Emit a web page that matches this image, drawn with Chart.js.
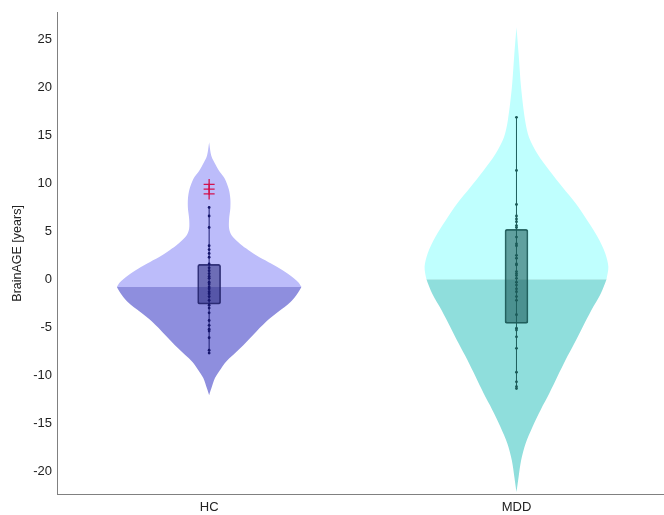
<!DOCTYPE html>
<html>
<head>
<meta charset="utf-8">
<title>BrainAGE violin plot</title>
<script src="https://cdn.jsdelivr.net/npm/chart.js@4.4.1/dist/chart.umd.min.js"></script>
<style>
  html, body { margin: 0; padding: 0; background: #ffffff; }
  #wrap { width: 664px; height: 515px; }
</style>
</head>
<body>
<div id="wrap"><canvas id="violin-chart" width="664" height="515"></canvas></div>
<script>
const groups = ['HC', 'MDD'];
const yTicks = [-20, -15, -10, -5, 0, 5, 10, 15, 20, 25];

// individual subjects (years)
const hcValues = [7.5, 6.6, 5.4, 3.5, 3.1, 2.7, 2.3, 1.6, 1.2, 0.9, 0.6, 0.3, 0.1, -0.3, -0.5, -0.8, -1.0, -1.3, -1.5, -1.8, -2.2, -2.7, -3.0, -3.5, -4.3, -4.8, -5.2, -5.4, -6.1, -7.4, -7.7];
const hcOutliers = [9.9, 9.4, 8.9];
const mddValues = [16.9, 11.35, 7.8, 6.6, 6.3, 6.0, 5.6, 5.4, 4.4, 3.7, 3.5, 2.5, 2.2, 1.6, 1.5, 0.8, 0.6, 0.4, 0.1, -0.3, -0.6, -1.0, -1.3, -1.8, -2.2, -3.7, -5.1, -5.3, -6.0, -7.2, -9.7, -10.7, -11.2, -11.4];

// q1, median, q3
const hcQuartiles = [-2.6, -0.8, 1.55];
const mddQuartiles = [-4.6, 0.0, 5.2];

// kernel density outline: level (years) and half width (x units)
const hcLevels = [-12.1, -11.4, -10.3, -9.3, -8.6, -7.2, -5.8, -4.4, -3.4, -2.4, -1.7, -0.8, -0.3, 0.4, 1.1, 1.8, 2.5, 3.2, 3.9, 4.6, 5.3, 6.3, 7.4, 8.4, 9.4, 10.5, 11.2, 11.9, 12.9, 14.3];
const hcDensity = [0, 0.007, 0.019, 0.039, 0.055, 0.101, 0.143, 0.186, 0.225, 0.264, 0.283, 0.300, 0.290, 0.264, 0.231, 0.192, 0.153, 0.121, 0.094, 0.073, 0.065, 0.065, 0.069, 0.069, 0.064, 0.051, 0.035, 0.022, 0.007, 0];
const mddLevels = [-22.2, -20.6, -18.9, -17.1, -15.4, -13.6, -11.9, -10.1, -8.4, -6.7, -5.0, -3.2, -1.5, 0.0, 1.3, 2.7, 4.4, 6.1, 7.9, 9.6, 11.35, 13.1, 14.8, 16.6, 20.0, 23.5, 26.3];
const mddDensity = [0, 0.007, 0.015, 0.030, 0.052, 0.079, 0.107, 0.134, 0.160, 0.188, 0.215, 0.244, 0.274, 0.293, 0.299, 0.289, 0.264, 0.231, 0.193, 0.150, 0.107, 0.068, 0.041, 0.028, 0.015, 0.007, 0];

function widthAt(levels, widths, y) {
  for (let i = 1; i < levels.length; i++) {
    if (y <= levels[i]) {
      const t = (y - levels[i - 1]) / (levels[i] - levels[i - 1]);
      return widths[i - 1] + t * (widths[i] - widths[i - 1]);
    }
  }
  return 0;
}

// closed outline of the violin between two levels.
// the cut at the median gets extra points next to the corners so the
// curve tension keeps that edge straight
function violinPart(center, levels, widths, from, to) {
  const ys = [from, ...levels.filter((l) => l > from && l < to), to];
  const right = ys.map((y) => ({ x: center + widthAt(levels, widths, y), y }));
  const left = ys.slice().reverse().map((y) => ({ x: center - widthAt(levels, widths, y), y }));
  const eps = 0.004;
  const top = right[right.length - 1];
  const bottom = right[0];
  const topEdge = top.x - center > eps
    ? [{ x: top.x - eps, y: top.y }, { x: 2 * center - top.x + eps, y: top.y }]
    : [];
  const bottomEdge = bottom.x - center > eps
    ? [{ x: 2 * center - bottom.x + eps, y: bottom.y }, { x: bottom.x - eps, y: bottom.y }]
    : [];
  return [...right, ...topEdge, ...left, ...bottomEdge, right[0]];
}

function violinDataset(points, color) {
  return {
    type: 'line',
    data: points,
    backgroundColor: color,
    borderWidth: 0,
    borderColor: 'rgba(0,0,0,0)',
    pointRadius: 0,
    fill: 'shape',
    tension: 0.3,
    order: 10,
  };
}

function dotsDataset(center, values, color) {
  return {
    type: 'line',
    data: values.map((v) => ({ x: center, y: v })),
    showLine: false,
    pointRadius: 1.4,
    pointBorderWidth: 0,
    pointBackgroundColor: color,
    order: 3,
  };
}

function whiskerDataset(center, values, color) {
  return {
    type: 'line',
    data: [{ x: center, y: Math.min(...values) }, { x: center, y: Math.max(...values) }],
    borderColor: color,
    borderWidth: 1,
    pointRadius: 0,
    order: 4,
  };
}

const hcMedian = hcQuartiles[1];
const mddMedian = mddQuartiles[1];

const datasets = [
  violinDataset(violinPart(1, hcLevels, hcDensity, hcMedian, hcLevels[hcLevels.length - 1]), 'rgb(188,188,250)'),
  violinDataset(violinPart(1, hcLevels, hcDensity, hcLevels[0], hcMedian), 'rgb(142,142,222)'),
  violinDataset(violinPart(2, mddLevels, mddDensity, mddMedian, mddLevels[mddLevels.length - 1]), 'rgb(191,255,254)'),
  violinDataset(violinPart(2, mddLevels, mddDensity, mddLevels[0], mddMedian), 'rgb(143,222,220)'),
  {
    type: 'bar',
    data: [
      { x: 1, y: [hcQuartiles[0], hcQuartiles[2]] },
      { x: 2, y: [mddQuartiles[0], mddQuartiles[2]] },
    ],
    backgroundColor: ['rgba(30,30,113,0.5)', 'rgba(21,86,83,0.56)'],
    borderColor: ['rgba(30,30,100,0.85)', 'rgba(20,80,78,0.85)'],
    borderWidth: 1,
    borderRadius: 2,
    borderSkipped: false,
    barThickness: 23,
    order: 5,
  },
  whiskerDataset(1, hcValues, '#1a1a70'),
  whiskerDataset(2, mddValues, '#1d5e5c'),
  dotsDataset(1, hcValues, '#16166c'),
  dotsDataset(2, mddValues, '#1b5a58'),
  {
    type: 'line',
    data: hcOutliers.map((v) => ({ x: 1, y: v })),
    showLine: false,
    pointStyle: 'cross',
    pointRadius: 5.5,
    pointBorderColor: '#d2124e',
    pointBorderWidth: 1.3,
    order: 1,
  },
];

const axisFont = { family: '"Liberation Sans", Arial, sans-serif', size: 13 };

new Chart(document.getElementById('violin-chart'), {
  type: 'line',
  data: { datasets },
  options: {
    responsive: false,
    animation: false,
    layout: { autoPadding: false, padding: { top: 12, right: 0, left: 0, bottom: 0 } },
    plugins: {
      legend: { display: false },
      tooltip: { enabled: false },
    },
    scales: {
      x: {
        type: 'linear',
        min: 0.505,
        max: 2.48,
        offset: false,
        grid: { display: false, drawTicks: false },
        border: { display: true, color: '#808080', width: 1 },
        ticks: {
          font: axisFont,
          color: '#222',
          padding: 6,
          maxRotation: 0,
          callback: (value) => groups[value - 1] || '',
        },
        afterBuildTicks: (scale) => {
          scale.ticks = groups.map((g, i) => ({ value: i + 1 }));
        },
        afterFit: (scale) => {
          scale.height = 21;
        },
      },
      y: {
        type: 'linear',
        min: -22.4,
        max: 27.8,
        grid: { display: false, drawTicks: false },
        border: { display: true, color: '#808080', width: 1 },
        ticks: { font: axisFont, color: '#222', padding: 5 },
        afterBuildTicks: (scale) => {
          scale.ticks = yTicks.map((v) => ({ value: v }));
        },
        afterFit: (scale) => {
          scale.width = 57;
        },
        title: {
          display: true,
          text: 'BrainAGE [years]',
          color: '#222',
          font: { family: '"Liberation Sans", Arial, sans-serif', size: 12.5 },
          padding: { top: 10, bottom: 0 },
        },
      },
    },
  },
});
</script>
</body>
</html>
